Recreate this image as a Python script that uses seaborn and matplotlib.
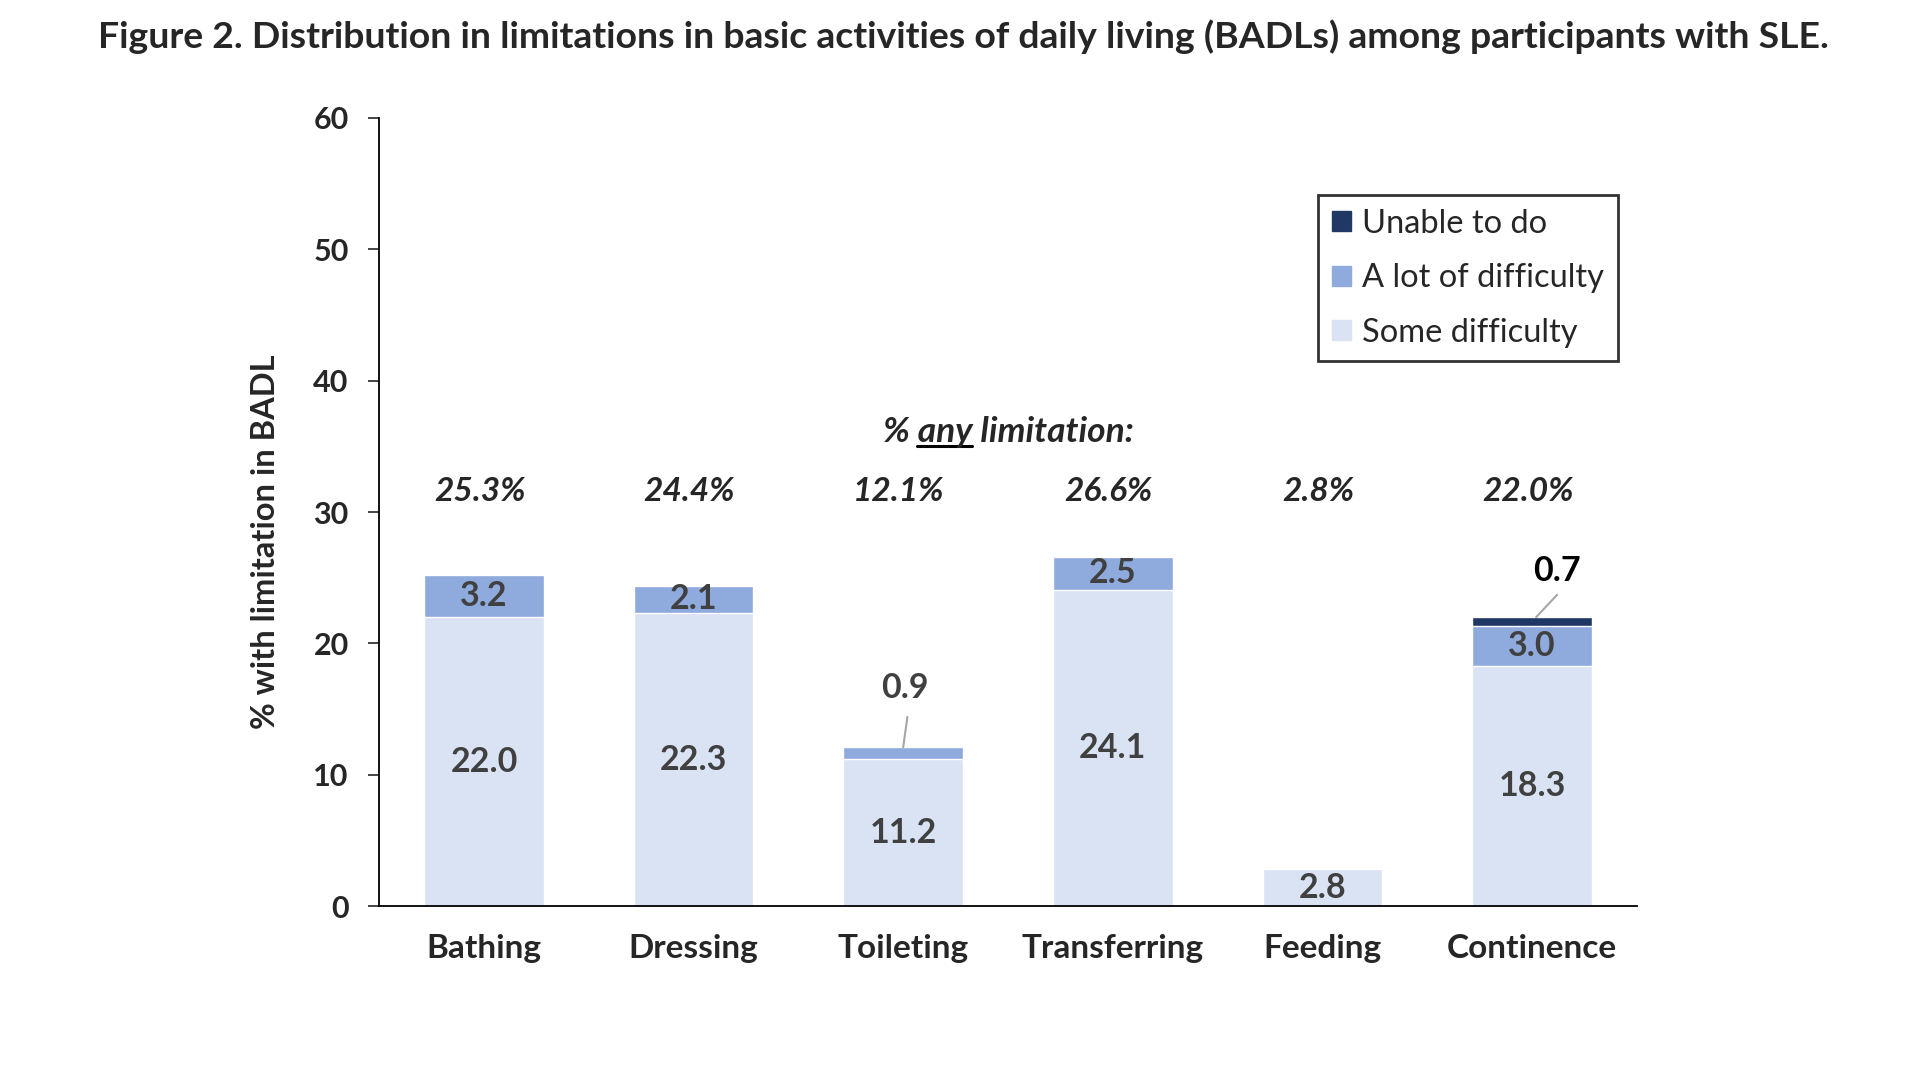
import numpy as np
import pandas as pd
import matplotlib
matplotlib.use('Agg')
import matplotlib.pyplot as plt
import matplotlib.patches as mpatches
import seaborn as sns

# data
activities = ['Bathing', 'Dressing', 'Toileting', 'Transferring', 'Feeding', 'Continence']
some_difficulty = [22.0, 22.3, 11.2, 24.1, 2.8, 18.3]
lot_difficulty = [3.2, 2.1, 0.9, 2.5, 0.0, 3.0]
unable_to_do = [0.0, 0.0, 0.0, 0.0, 0.0, 0.7]
any_limitation = ['25.3%', '24.4%', '12.1%', '26.6%', '2.8%', '22.0%']

c_some = '#DAE3F3'
c_lot = '#8FAADC'
c_unable = '#1F3864'
lbl_col = '#404040'

sns.set_style('white')
plt.rcParams['font.family'] = ['Lato', 'DejaVu Sans']

df = pd.DataFrame({'Activity': activities,
                   'some': some_difficulty,
                   'lot': lot_difficulty,
                   'unable': unable_to_do})
df['lvl2'] = df['some'] + df['lot']
df['lvl3'] = df['lvl2'] + df['unable']

fig = plt.figure(figsize=(19.2, 10.8), dpi=100)
ax = fig.add_axes([0.1975, 0.161, 0.655, 0.7298])

#stack by drawing the cumulative heights from the top down
sns.barplot(data=df, x='Activity', y='lvl3', color=c_unable, width=0.57,
            saturation=1, ax=ax)
sns.barplot(data=df, x='Activity', y='lvl2', color=c_lot, width=0.57,
            saturation=1, ax=ax)
sns.barplot(data=df, x='Activity', y='some', color=c_some, width=0.57,
            saturation=1, ax=ax)

ax.set_xlim(-0.5, 5.5)
ax.set_ylim(0, 60)
ax.set_yticks(range(0, 61, 10))
ax.set_xlabel('')
ax.set_ylabel('% with limitation in BADL', fontsize=23.5, fontweight='bold')
ax.yaxis.set_label_coords(-0.079, 0.463)
ax.tick_params(axis='y', labelsize=22, length=8, width=1.2, direction='out', pad=14, left=True)
ax.tick_params(axis='x', labelsize=24, length=0, pad=20)
for t in ax.get_xticklabels() + ax.get_yticklabels():
    t.set_fontweight('bold')
sns.despine(ax=ax)
for s in ['left', 'bottom']:
    ax.spines[s].set_color('black')
    ax.spines[s].set_linewidth(1.3)

# segment labels
for i in range(len(activities)):
    s = some_difficulty[i]
    l = lot_difficulty[i]
    ax.text(i, s / 2, f'{s:.1f}', ha='center', va='center', fontsize=24.5,
            fontweight='bold', color=lbl_col)
    if l >= 2:
        ax.text(i, s + l / 2, f'{l:.1f}', ha='center', va='center', fontsize=24.5,
                fontweight='bold', color=lbl_col)

# small segments with leader lines
ax.plot([2.0, 2.02], [12.1, 14.4], color='#A6A6A6', lw=1.5)
ax.text(2.01, 16.6, f'{lot_difficulty[2]:.1f}', ha='center', va='center', fontsize=24.5,
        fontweight='bold', color=lbl_col)
ax.plot([5.02, 5.12], [22.0, 23.7], color='#A6A6A6', lw=1.5)
ax.text(5.12, 25.5, f'{unable_to_do[5]:.1f}', ha='center', va='center', fontsize=24.5,
        fontweight='bold', color='black')

# any limitation row
head_kw = dict(fontsize=25.5, fontweight='bold', style='italic')
head = ax.text(2.5, 36.1, '% any limitation:', ha='center', va='center', **head_kw)
for i, v in enumerate(any_limitation):
    ax.text(i - 0.02, 31.6, v, ha='center', va='center', fontsize=24,
            fontweight='bold', style='italic')

# underline the word "any"
fig.canvas.draw()
rend = fig.canvas.get_renderer()
bb = head.get_window_extent(rend)
def _w(s):
    t = ax.text(0, 0, s, **head_kw)
    w = t.get_window_extent(rend).width
    t.remove()
    return w
x0 = bb.x0 + _w('% ')
x1 = bb.x0 + _w('% any')
inv = ax.transData.inverted()
(dx0, dy), (dx1, _) = inv.transform([(x0, bb.y0 + 2), (x1, bb.y0 + 2)])
ax.plot([dx0, dx1], [dy, dy], color='black', lw=2.2)

handles = [mpatches.Patch(color=c_unable, label='Unable to do'),
           mpatches.Patch(color=c_lot, label='A lot of difficulty'),
           mpatches.Patch(color=c_some, label='Some difficulty')]
leg = ax.legend(handles=handles, loc='upper right', bbox_to_anchor=(0.8426, 0.8194),
                bbox_transform=fig.transFigure, fontsize=23.5, frameon=True,
                fancybox=False, handlelength=0.58, handleheight=0.58,
                handletextpad=0.35, borderpad=0.42, labelspacing=0.75,
                borderaxespad=0)
leg.get_frame().set_edgecolor('black')
leg.get_frame().set_linewidth(2)

fig.suptitle('Figure 2. Distribution in limitations in basic activities of daily living (BADLs) among participants with SLE.',
             x=0.502, y=0.982, fontsize=26.9, fontweight='bold')

fig.savefig('out.png', dpi=100)
